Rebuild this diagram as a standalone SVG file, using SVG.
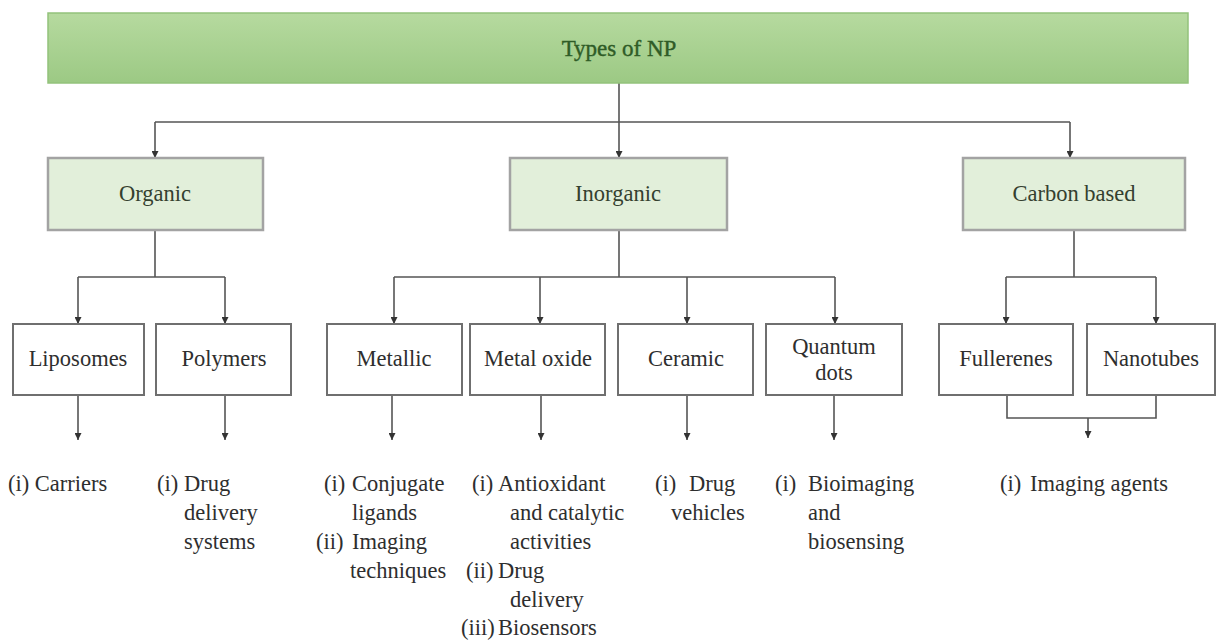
<svg xmlns="http://www.w3.org/2000/svg" width="1217" height="641" viewBox="0 0 1217 641" font-family="'Liberation Serif', 'DejaVu Serif', serif">
<defs>
<linearGradient id="gTop" x1="0" y1="0" x2="0" y2="1">
<stop offset="0" stop-color="#b6da9f"/>
<stop offset="1" stop-color="#9cc984"/>
</linearGradient>
<marker id="arr" viewBox="0 0 10 10" refX="10" refY="5" markerWidth="7" markerHeight="7" markerUnits="userSpaceOnUse" orient="auto">
<path d="M0,0 L10,5 L0,10 z" fill="#333"/>
</marker>
<style>
text{font-family:'Liberation Serif','DejaVu Serif',serif;font-size:22.5px;fill:#2e2e2e}
.c{text-anchor:middle}
.top{fill:#2f5c27;font-size:23px;stroke:#2f5c27;stroke-width:0.4}
.l2 rect{fill:#e2efda;stroke:#a3a3a3;stroke-width:2.5}
.l2 text{fill:#34402f}
.l3 rect{fill:#fff;stroke:#6f6f6f;stroke-width:2}
#connectors path{fill:none;stroke:#555;stroke-width:1.6}
.a{marker-end:url(#arr)}
</style>
</defs>
<rect width="1217" height="641" fill="#fff"/>

<g id="connectors">
<path d="M619 83 V122 M155 122 H1070"/>
<path class="a" d="M155 122 V158"/>
<path class="a" d="M619 122 V158"/>
<path class="a" d="M1070 122 V158"/>
<path d="M155 230 V277 M78 277 H225"/>
<path class="a" d="M78 277 V324"/>
<path class="a" d="M225 277 V324"/>
<path d="M619 230 V277 M394 277 H835"/>
<path class="a" d="M394 277 V324"/>
<path class="a" d="M540 277 V324"/>
<path class="a" d="M687 277 V324"/>
<path class="a" d="M835 277 V324"/>
<path d="M1074 230 V277 M1006 277 H1156"/>
<path class="a" d="M1006 277 V324"/>
<path class="a" d="M1156 277 V324"/>
<path class="a" d="M78 395 V440"/>
<path class="a" d="M225 395 V440"/>
<path class="a" d="M392 395 V440"/>
<path class="a" d="M541 395 V440"/>
<path class="a" d="M687 395 V440"/>
<path class="a" d="M834 395 V440"/>
<path d="M1007 395 V418 H1156 V395"/>
<path class="a" d="M1088 418 V438"/>
</g>

<g id="types-of-np">
<rect x="48" y="13" width="1140" height="70" fill="url(#gTop)" stroke="#93c27b" stroke-width="1.5"/>
<text class="c top" x="619" y="56">Types of NP</text>
</g>

<g id="organic" class="l2">
<rect x="48" y="158" width="215" height="72"/>
<text class="c" x="155" y="201">Organic</text>
</g>
<g id="inorganic" class="l2">
<rect x="510" y="158" width="217" height="72"/>
<text class="c" x="618" y="201">Inorganic</text>
</g>
<g id="carbon-based" class="l2">
<rect x="963" y="158" width="222" height="72"/>
<text class="c" x="1074" y="201">Carbon based</text>
</g>

<g id="liposomes" class="l3">
<rect x="13" y="324" width="131" height="71"/>
<text class="c" x="78" y="366">Liposomes</text>
</g>
<g id="polymers" class="l3">
<rect x="156" y="324" width="135" height="71"/>
<text class="c" x="224" y="366">Polymers</text>
</g>
<g id="metallic" class="l3">
<rect x="327" y="324" width="135" height="71"/>
<text class="c" x="394" y="366">Metallic</text>
</g>
<g id="metal-oxide" class="l3">
<rect x="470" y="324" width="135" height="71"/>
<text class="c" x="538" y="366">Metal oxide</text>
</g>
<g id="ceramic" class="l3">
<rect x="618" y="324" width="135" height="71"/>
<text class="c" x="686" y="366">Ceramic</text>
</g>
<g id="quantum-dots" class="l3">
<rect x="766" y="324" width="136" height="71"/>
<text class="c" x="834" y="354">Quantum</text>
<text class="c" x="834" y="380">dots</text>
</g>
<g id="fullerenes" class="l3">
<rect x="939" y="324" width="134" height="71"/>
<text class="c" x="1006" y="366">Fullerenes</text>
</g>
<g id="nanotubes" class="l3">
<rect x="1087" y="324" width="128" height="71"/>
<text class="c" x="1151" y="366">Nanotubes</text>
</g>

<g id="uses-liposomes">
<text x="8" y="491">(i) Carriers</text>
</g>
<g id="uses-polymers">
<text x="157" y="491">(i)</text>
<text x="184" y="491">Drug</text>
<text x="184" y="520">delivery</text>
<text x="184" y="549">systems</text>
</g>
<g id="uses-metallic">
<text x="324" y="491">(i)</text>
<text x="352" y="491">Conjugate</text>
<text x="352" y="520">ligands</text>
<text x="316" y="549">(ii)</text>
<text x="352" y="549">Imaging</text>
<text x="350" y="578">techniques</text>
</g>
<g id="uses-metal-oxide">
<text x="472" y="491">(i)</text>
<text x="498" y="491">Antioxidant</text>
<text x="510" y="520">and catalytic</text>
<text x="510" y="549">activities</text>
<text x="466" y="578">(ii)</text>
<text x="498" y="578">Drug</text>
<text x="510" y="607">delivery</text>
<text x="461" y="635">(iii)</text>
<text x="498" y="635">Biosensors</text>
</g>
<g id="uses-ceramic">
<text x="655" y="491">(i)</text>
<text x="689" y="491">Drug</text>
<text x="671" y="520">vehicles</text>
</g>
<g id="uses-quantum-dots">
<text x="775" y="491">(i)</text>
<text x="808" y="491">Bioimaging</text>
<text x="808" y="520">and</text>
<text x="808" y="549">biosensing</text>
</g>
<g id="uses-carbon">
<text x="1000" y="491">(i)</text>
<text x="1030" y="491">Imaging agents</text>
</g>
</svg>
